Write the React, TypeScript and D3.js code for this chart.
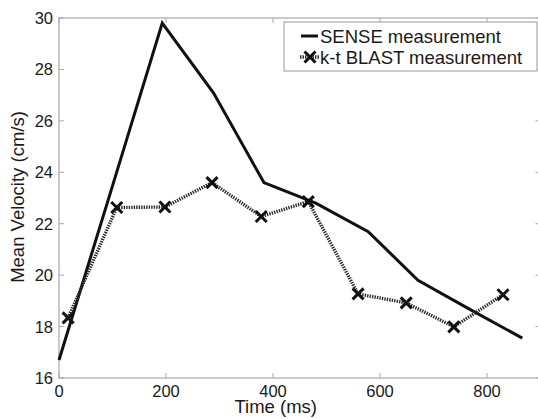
import React from "react";
import * as d3 from "d3";

const senseTime = [0, 96, 193, 289, 383, 480, 578, 671, 768, 866];
const senseVel = [16.7, 23.2, 29.8, 27.08, 23.6, 22.8, 21.69, 19.8, 18.67, 17.55];

const blastTime = [17, 108, 198, 286, 378, 466, 559, 649, 738, 830];
const blastVel = [18.34, 22.63, 22.65, 23.6, 22.28, 22.86, 19.27, 18.92, 17.99, 19.24];

const xTicks = [0, 200, 400, 600, 800];
const yTicks = [16, 18, 20, 22, 24, 26, 28, 30];

const legendLabels = ["SENSE measurement", "k-t BLAST measurement"];

const W = 538;
const H = 419;
const FONT = "Liberation Sans, Arial, Helvetica, sans-serif";

export default function App() {
  const x = d3.scaleLinear().domain([0, 900]).range([59, 540.5]);
  const y = d3.scaleLinear().domain([16, 30]).range([378, 18]);
  const line = d3
    .line<[number, number]>()
    .x((d) => x(d[0]))
    .y((d) => y(d[1]));
  const senseData: [number, number][] = senseTime.map((t, i) => [t, senseVel[i]]);
  const blastData: [number, number][] = blastTime.map((t, i) => [t, blastVel[i]]);
  const axisColor = "#a8a8a8";
  const tickLen = 5;
  const left = x(0);
  const right = x(900);
  const top = y(30);
  const bottom = y(16);
  const mk = 5.5;

  const cross = (cx: number, cy: number, key: string) => (
    <path
      key={key}
      d={`M${cx - mk},${cy - mk}L${cx + mk},${cy + mk}M${cx - mk},${cy + mk}L${cx + mk},${cy - mk}`}
      stroke="#111"
      strokeWidth={3}
      fill="none"
    />
  );

  return (
    <svg
      width={W}
      height={H}
      style={{ position: "absolute", left: 0, top: 0, background: "#fff" }}
    >
      <rect x={0} y={0} width={W} height={H} fill="#fff" />
      <rect
        x={left}
        y={top}
        width={right - left}
        height={bottom - top}
        fill="none"
        stroke={axisColor}
        strokeWidth={1.2}
      />
      {xTicks.map((t) => (
        <g key={"xt" + t}>
          <line x1={x(t)} x2={x(t)} y1={bottom} y2={bottom - tickLen} stroke={axisColor} strokeWidth={1} />
          <line x1={x(t)} x2={x(t)} y1={top} y2={top + tickLen} stroke={axisColor} strokeWidth={1} />
          <text
            x={x(t)}
            y={397}
            textAnchor="middle"
            fontFamily={FONT}
            fontSize={16.5}
            fill="#1a1a1a"
          >
            {t}
          </text>
        </g>
      ))}
      {yTicks.map((t) => (
        <g key={"yt" + t}>
          <line x1={left} x2={left + tickLen} y1={y(t)} y2={y(t)} stroke={axisColor} strokeWidth={1} />
          <line x1={right} x2={right - tickLen} y1={y(t)} y2={y(t)} stroke={axisColor} strokeWidth={1} />
          <text
            x={53}
            y={y(t) + 6}
            textAnchor="end"
            fontFamily={FONT}
            fontSize={16.5}
            fill="#1a1a1a"
          >
            {t}
          </text>
        </g>
      ))}
      <text
        x={(left + 540.5) / 2 - 24}
        y={413}
        textAnchor="middle"
        fontFamily={FONT}
        fontSize={18.5}
        fill="#1a1a1a"
      >
        Time (ms)
      </text>
      <text
        transform={`translate(24,197) rotate(-90)`}
        textAnchor="middle"
        fontFamily={FONT}
        fontSize={18.5}
        fill="#1a1a1a"
      >
        Mean Velocity (cm/s)
      </text>

      <path d={line(senseData) || ""} fill="none" stroke="#111" strokeWidth={3} strokeLinejoin="miter" />
      <path
        d={line(blastData) || ""}
        fill="none"
        stroke="#2a2a2a"
        strokeWidth={3.4}
        strokeDasharray="1.4,1.1"
      />
      {blastData.map((d, i) => cross(x(d[0]), y(d[1]), "m" + i))}

      <rect x={284} y={22} width={253} height={49} fill="#fff" stroke={axisColor} strokeWidth={1.2} />
      <line x1={301} x2={318} y1={36} y2={36} stroke="#111" strokeWidth={3} />
      <text x={320} y={43} fontFamily={FONT} fontSize={18.5} fill="#1a1a1a">
        {legendLabels[0]}
      </text>
      <line x1={300} x2={320} y1={57} y2={57} stroke="#2a2a2a" strokeWidth={3.4} strokeDasharray="1.4,1.1" />
      {cross(310, 57, "lm")}
      <text x={320} y={64} fontFamily={FONT} fontSize={18.5} fill="#1a1a1a">
        {legendLabels[1]}
      </text>
    </svg>
  );
}
